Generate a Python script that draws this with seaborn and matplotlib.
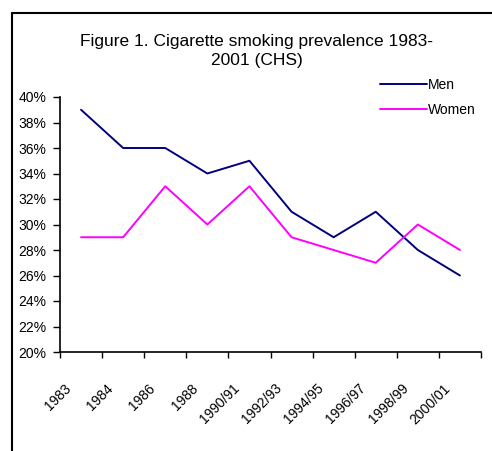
import numpy as np
import pandas as pd
import matplotlib
matplotlib.use('Agg')
import matplotlib.pyplot as plt
from matplotlib.lines import Line2D
import seaborn as sns

# data (percent)
periods = ['1983', '1984', '1986', '1988', '1990/91', '1992/93',
           '1994/95', '1996/97', '1998/99', '2000/01']
men = [39, 36, 36, 34, 35, 31, 29, 31, 28, 26]
women = [29, 29, 33, 30, 33, 29, 28, 27, 30, 28]
yticks = list(range(20, 41, 2))

df = pd.DataFrame({
    'period': periods * 2,
    'value': men + women,
    'sex': ['Men'] * len(periods) + ['Women'] * len(periods),
})

sns.set_style('white')
plt.rcParams['font.family'] = ['Liberation Sans', 'DejaVu Sans']
plt.rcParams['text.color'] = 'black'
plt.rcParams['xtick.color'] = 'black'
plt.rcParams['ytick.color'] = 'black'

fig = plt.figure(figsize=(4.92, 4.51), dpi=100)
ax = fig.add_axes([60 / 492, 1 - 352 / 451, 421 / 492, 255 / 451])

sns.lineplot(data=df, x='period', y='value', hue='sex', sort=False,
             palette={'Men': '#000080', 'Women': '#FF00FF'},
             linewidth=1.4, ax=ax)

n = len(periods)
ax.set_xlim(-0.5, n - 0.5)
ax.set_ylim(20, 40)
ax.set_xticks(np.arange(-0.5, n, 1))
ax.set_xticklabels([])
# category labels sit a bit left of the category centre, as in the original
ax.set_xticks(np.arange(n) - 0.4, minor=True)
ax.set_xticklabels(periods, minor=True, rotation=45, ha='right', va='top',
                   rotation_mode='anchor', fontsize=10)
ax.tick_params(axis='x', which='minor', length=0, pad=21)
ax.tick_params(axis='x', which='major', direction='out', length=4, width=1,
               bottom=True)
ax.set_yticks(yticks)
ax.set_yticklabels([f'{v}%' for v in yticks], fontsize=10)
ax.tick_params(axis='y', direction='out', length=5, width=1, pad=5, left=True)
ax.set_xlabel('')
ax.set_ylabel('')

for side in ['top', 'right']:
    ax.spines[side].set_visible(False)
for side in ['left', 'bottom']:
    ax.spines[side].set_color('black')
    ax.spines[side].set_linewidth(1.2)

ax.legend(loc='upper left', bbox_to_anchor=(380 / 492, 1 - 78 / 451),
          bbox_transform=fig.transFigure, frameon=False, fontsize=10,
          handlelength=3.4, handletextpad=0.05, labelspacing=0.8,
          borderaxespad=0, borderpad=0)

fig.text(257 / 492, 1 - 51 / 451,
         'Figure 1. Cigarette smoking prevalence 1983-\n2001 (CHS)',
         ha='center', va='center', fontsize=12.5, linespacing=1.4)

# outer chart frame
fig.add_artist(Line2D([12 / 492, 12 / 492], [0, 1 - 13 / 451],
                      transform=fig.transFigure, color='black', linewidth=1.5))
fig.add_artist(Line2D([12 / 492, 1], [1 - 13 / 451, 1 - 13 / 451],
                      transform=fig.transFigure, color='black', linewidth=1.5))

fig.savefig('out.png', dpi=100)
